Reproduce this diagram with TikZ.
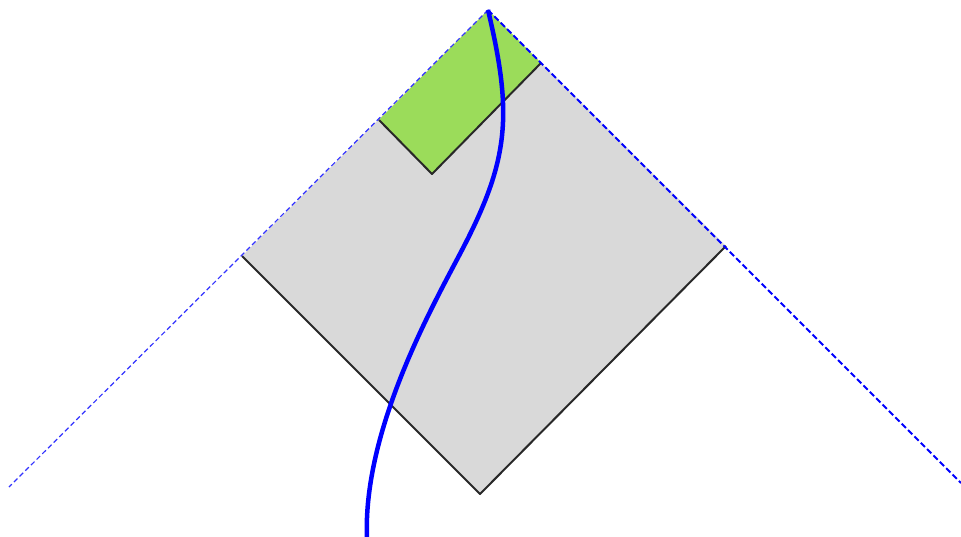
\documentclass[tikz,border=0pt]{standalone}
\usepackage{tikz}
\definecolor{regiongray}{RGB}{217,217,217}
\definecolor{regiongreen}{RGB}{155,220,90}
\definecolor{edgedark}{RGB}{40,40,40}

\begin{document}
\begin{tikzpicture}[
  x=1pt,y=-1pt,
  region/.style={fill=regiongray,draw=none},
  patch/.style={fill=regiongreen,draw=none},
  edge/.style={draw=edgedark,line width=2pt,line join=round},
  horizon/.style={draw=blue,line width=2pt,dash pattern=on 6pt off 3pt},
  thinhorizon/.style={draw=blue!80,line width=1.2pt,dash pattern=on 5pt off 3pt},
  worldline/.style={draw=blue,line width=4.5pt,line cap=butt},
]
\useasboundingbox (0,0) rectangle (961,537);

% corners
\coordinate (A) at (488,10);
\coordinate (SL) at (242,256);
\coordinate (SB) at (480,494);
\coordinate (SR) at (726,246);
\coordinate (GL) at (379,120);
\coordinate (GB) at (432,174);
\coordinate (GR) at (541,63);
\coordinate (HL) at (9,487);
\coordinate (HR) at (961,483);
\coordinate (W1) at (462,250);
\coordinate (W2) at (367,540);

\fill[region] (A)--(SR)--(SB)--(SL)--cycle;
\fill[patch] (A)--(GR)--(GB)--(GL)--cycle;
\draw[edge] (SL)--(SB)--(SR);
\draw[edge] (GL)--(GB)--(GR);

\draw[thinhorizon] (A)--(HL);
\draw[horizon] (A)--(HR);

\draw[worldline] (A) .. controls (513,115) and (509,160) .. (W1)
  .. controls (433.8,304) and (362,430) .. (W2);
\end{tikzpicture}
\end{document}
